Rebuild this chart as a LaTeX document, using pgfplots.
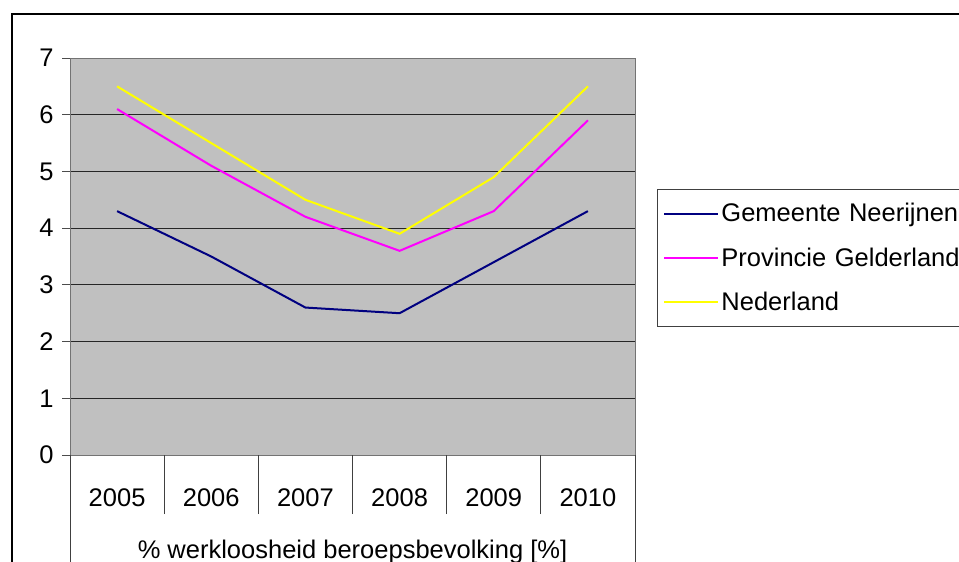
\documentclass[border=0pt]{standalone}
\usepackage{pgfplots}
\pgfplotsset{compat=1.18}
\usepackage{fontspec}
\setmainfont{Liberation Sans}
\definecolor{plotgray}{RGB}{192,192,192}
\definecolor{navyline}{RGB}{0,0,128}
\definecolor{magline}{RGB}{255,0,255}
\definecolor{yelline}{RGB}{255,255,0}
\begin{document}
\begin{tikzpicture}[x=1pt,y=1pt]
\path[use as bounding box] (0,0) rectangle (959,-562);
\clip (0,0) rectangle (959,-562);
\fill[white] (0,0) rectangle (959,-562);
\draw[black, line width=2pt] (12,-14) rectangle (1100,-700);
\begin{axis}[
  at={(70pt,-455pt)}, anchor=south west,
  scale only axis, width=565pt, height=397pt,
  xmin=0, xmax=6, ymin=0, ymax=7,
  axis background/.style={fill=plotgray},
  axis line style={draw=black!55, line width=1pt},
  ymajorgrids, grid style={draw=black!85, line width=1pt},
  ytick={0,1,2,3,4,5,6,7},
  xtick={0.5,1.5,2.5,3.5,4.5,5.5},
  xticklabels={2005,2006,2007,2008,2009,2010},
  tick pos=left,
  tick align=outside,
  major tick length=8pt,
  ytick style={draw=black!70, line width=1pt},
  xtick style={draw=none},
  extra x ticks={1,2,3,4,5},
  extra x tick labels={},
  extra x tick style={major tick length=59pt, tick align=outside, xtick style={draw=black!75, line width=1pt}, grid=none},
  ticklabel style={font=\fontsize{25.5}{30}\selectfont},
  /pgf/number format/assume math mode=true,
  yticklabel style={xshift=-5pt},
  xticklabel style={yshift=-22pt},
  xlabel={\% werkloosheid beroepsbevolking [\%]},
  xlabel style={font=\fontsize{25.5}{30}\selectfont, at={(axis description cs:0.5,0)}, anchor=base, yshift=-103pt},
  legend style={at={(rel axis cs:1.0389,0.670)}, anchor=north west,
    draw=black!75, line width=1pt, fill=white,
    font=\fontsize{25.5}{30}\selectfont,
    inner xsep=6pt, inner ysep=12pt,
    row sep=20.5pt,
    text width=240pt},
  legend cell align=left,
  legend image code/.code={\path (0pt,0pt) -- (54pt,0pt); \draw[#1, line width=2pt] (2pt,0pt) -- (51pt,0pt);},
]
\addplot[navyline, line width=2pt] coordinates {(0.5,4.3) (1.5,3.5) (2.5,2.6) (3.5,2.5) (4.5,3.4) (5.5,4.3)};
\addlegendentry{Gemeente Neerijnen}
\addplot[magline, line width=2pt] coordinates {(0.5,6.1) (1.5,5.1) (2.5,4.2) (3.5,3.6) (4.5,4.3) (5.5,5.9)};
\addlegendentry{Provincie Gelderland}
\addplot[yelline, line width=2pt] coordinates {(0.5,6.5) (1.5,5.5) (2.5,4.5) (3.5,3.9) (4.5,4.9) (5.5,6.5)};
\addlegendentry{Nederland}
\end{axis}
\draw[black!75, line width=1pt] (70,-455) -- (70,-570);
\draw[black!75, line width=1pt] (635,-455) -- (635,-570);
\end{tikzpicture}
\end{document}
